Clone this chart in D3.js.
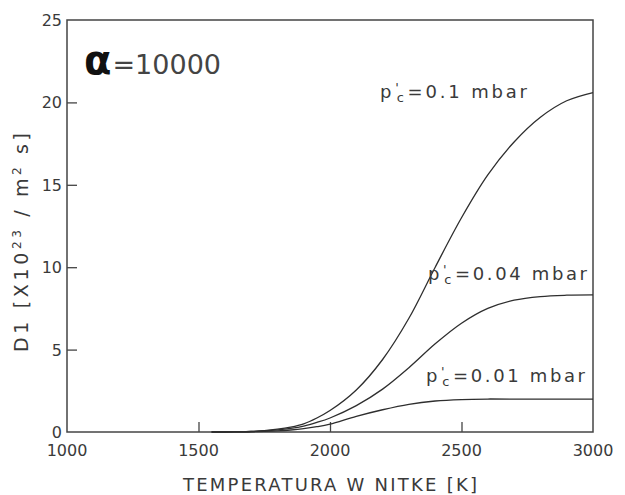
<!DOCTYPE html>
<html>
<head>
<meta charset="utf-8">
<script src="https://cdn.jsdelivr.net/npm/d3@7"></script>
<style>
  body { margin: 0; background: #fff; }
  text { font-family: "DejaVu Sans", "Liberation Sans", sans-serif; fill: #3a3a3a; }
</style>
</head>
<body>
<div id="chart"></div>
<script>
// chart data
var temps = [1550, 1600, 1650, 1700, 1750, 1800, 1850, 1900, 1950, 2000,
             2100, 2200, 2300, 2400, 2500, 2600, 2700, 2800, 2900, 3000];
var d1_p01  = [0, 0, 0.01, 0.03, 0.08, 0.17, 0.3, 0.5, 0.85, 1.3,
               2.55, 4.4, 6.9, 10.0, 13.0, 15.6, 17.6, 19.1, 20.1, 20.6];
var d1_p004 = [0, 0, 0.01, 0.03, 0.07, 0.13, 0.22, 0.36, 0.58, 0.85,
               1.6, 2.6, 3.9, 5.35, 6.6, 7.5, 8.0, 8.22, 8.3, 8.32];
var d1_p001 = [0, 0, 0.005, 0.02, 0.04, 0.07, 0.12, 0.2, 0.32, 0.48,
               0.95, 1.35, 1.68, 1.88, 1.97, 2.0, 2.0, 2.0, 2.0, 2.0];
var seriesNames = ["0.1", "0.04", "0.01"];
var xTicks = [1000, 1500, 2000, 2500, 3000];
var yTicks = [0, 5, 10, 15, 20, 25];

var svgWidth = 625;
var svgHeight = 495;
var margin = {top: 20, right: 32, bottom: 63, left: 67};
var chartWidth = svgWidth - margin.left - margin.right;
var chartHeight = svgHeight - margin.top - margin.bottom;

var svg = d3.select("#chart").append("svg")
            .attr("width", svgWidth)
            .attr("height", svgHeight);

var chartGroup = svg.append("g")
                    .attr("transform", `translate(${margin.left}, ${margin.top})`);

var xScale = d3.scaleLinear().domain([1000, 3000]).range([0, chartWidth]);
var yScale = d3.scaleLinear().domain([0, 25]).range([chartHeight, 0]);

// inward ticks, no ends
var xAxis = d3.axisTop(xScale).tickValues(xTicks.slice(1, -1)).tickSize(10).tickFormat("");
var yAxis = d3.axisRight(yScale).tickValues(yTicks.slice(1, -1)).tickSize(10).tickFormat("");

chartGroup.append("g")
    .attr("transform", `translate(0, ${chartHeight})`)
    .call(xAxis)
    .call(g => g.select(".domain").remove())
    .selectAll("line").attr("stroke", "#444").attr("stroke-width", 1.3);

chartGroup.append("g")
    .call(yAxis)
    .call(g => g.select(".domain").remove())
    .selectAll("line").attr("stroke", "#444").attr("stroke-width", 1.3);

// frame
chartGroup.append("rect")
    .attr("x", 0).attr("y", 0)
    .attr("width", chartWidth).attr("height", chartHeight)
    .attr("fill", "none")
    .attr("stroke", "#444")
    .attr("stroke-width", 1.5);

// tick labels
chartGroup.selectAll(".xlab")
    .data(xTicks).enter()
    .append("text")
    .attr("x", d => xScale(d))
    .attr("y", chartHeight + 24)
    .attr("text-anchor", "middle")
    .style("font-size", "16px")
    .text(d => d);

chartGroup.selectAll(".ylab")
    .data(yTicks).enter()
    .append("text")
    .attr("x", -5)
    .attr("y", d => yScale(d) + 6)
    .attr("text-anchor", "end")
    .style("font-size", "16px")
    .text(d => d);

// curves
var line = d3.line()
    .x((d, i) => xScale(temps[i]))
    .y(d => yScale(d))
    .curve(d3.curveCatmullRom);

[d1_p01, d1_p004, d1_p001].forEach(function(vals) {
    chartGroup.append("path")
        .attr("d", line(vals))
        .attr("fill", "none")
        .attr("stroke", "#2e2e2e")
        .attr("stroke-width", 1.3);
});

// curve labels (p'c with prime over the subscript)
var labelPos = [{x: 380, y: 98}, {x: 428, y: 280}, {x: 426, y: 382}];
seriesNames.forEach(function(name, i) {
    var p = labelPos[i];
    var t = svg.append("text")
        .attr("x", p.x).attr("y", p.y)
        .style("font-size", "18px");
    t.append("tspan").text("p");
    t.append("tspan").attr("dy", -6).attr("dx", 1).style("font-size", "13px").text("'");
    t.append("tspan").attr("dy", 10).attr("dx", -5).style("font-size", "13px").text("c");
    t.append("tspan").attr("dy", -4).attr("dx", 1).text("=" + name + "  mbar");
    t.attr("textLength", i == 0 ? 147 : 159).attr("lengthAdjust", "spacing");
});

// alpha annotation
var a = svg.append("text").attr("x", 84).attr("y", 74);
a.append("tspan")
    .style("font-size", "40px")
    .style("font-weight", "bold")
    .style("fill", "#111")
    .text("\u03B1");
a.append("tspan")
    .attr("dx", 1)
    .style("font-size", "27px")
    .style("fill", "#444")
    .text("=10000");

// x-axis title
svg.append("text")
    .attr("x", 183)
    .attr("y", 491)
    .attr("textLength", 294)
    .attr("lengthAdjust", "spacing")
    .style("font-size", "18px")
    .text("TEMPERATURA W NITKE [K]");

// y-axis title
var yl = svg.append("text")
    .attr("transform", "translate(28, 352) rotate(-90)")
    .attr("textLength", 219)
    .attr("lengthAdjust", "spacing")
    .style("font-size", "19px");
yl.append("tspan").text("D1  [X10");
yl.append("tspan").attr("dy", -7).style("font-size", "12px").text("23");
yl.append("tspan").attr("dy", 7).text(" / m");
yl.append("tspan").attr("dy", -7).style("font-size", "12px").text("2");
yl.append("tspan").attr("dy", 7).text(" s]");
</script>
</body>
</html>
